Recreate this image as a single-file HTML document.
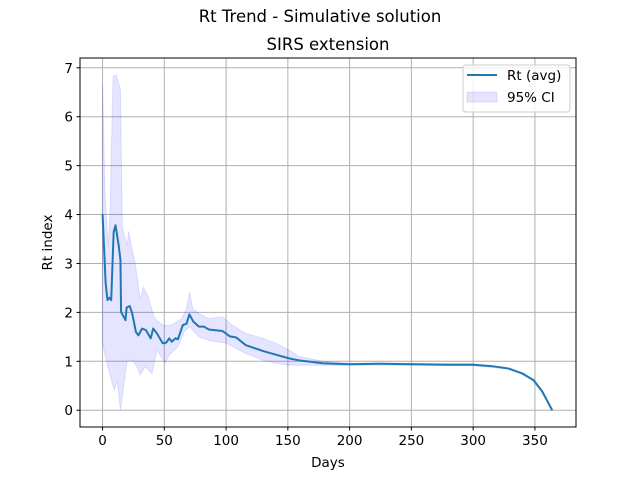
<!DOCTYPE html>
<html><head><meta charset="utf-8"><style>
body{margin:0;background:#fff}
svg{display:block;font-family:"DejaVu Sans","Liberation Sans",sans-serif}
</style></head><body>
<svg id="chart" width="640" height="480" viewBox="0 0 640 480" xmlns="http://www.w3.org/2000/svg">
<rect width="640" height="480" fill="#fff"/>
<text x="320" y="22" text-anchor="middle" font-size="16.5">Rt Trend - Simulative solution</text>
<text x="328" y="50" text-anchor="middle" font-size="16.5">SIRS extension</text>
<g id="grid"></g>
<g id="band"></g>
<g id="line"></g>
<rect x="80" y="58" width="496" height="369" fill="none" stroke="#000" stroke-width="1"/>
<g id="ticks"></g>
<text x="328" y="467" text-anchor="middle" font-size="13.5">Days</text>
<text transform="translate(52,242.5) rotate(-90)" text-anchor="middle" font-size="13.5">Rt index</text>
<g>
<rect x="463" y="65" width="107" height="47" rx="3" fill="#fff" fill-opacity="0.8" stroke="#ccc"/>
<line x1="467" y1="75" x2="497" y2="75" stroke="#1f77b4" stroke-width="2"/>
<text x="507" y="80" font-size="13.5">Rt (avg)</text>
<rect x="467" y="92" width="30" height="10" fill="#0000ff" fill-opacity="0.1" stroke="#0000ff" stroke-opacity="0.1"/>
<text x="507" y="102" font-size="13.5">95% CI</text>
</g>
</svg>
<script>
const days=[0,2.5,4,5.5,7,9,10.5,13,14.5,15,18.6,19.5,22,24,27,29,32,35,39,41,44,48.7,51.5,54,56,59,61,65,68,70.3,73.5,78,82,86,97,103,108,116,130,141,151,159,178,199,223,251,278,300,315.5,329,340,349,356,364];
const avg=[4.01,2.6,2.25,2.3,2.25,3.64,3.78,3.38,3.07,2.01,1.84,2.1,2.13,1.98,1.6,1.53,1.67,1.64,1.47,1.67,1.57,1.37,1.38,1.47,1.40,1.47,1.45,1.74,1.77,1.96,1.81,1.71,1.71,1.65,1.62,1.51,1.49,1.33,1.21,1.13,1.06,1.02,0.96,0.94,0.95,0.94,0.93,0.93,0.90,0.85,0.75,0.61,0.38,0.0];
const upDays=[0,2,4.5,6,8.5,11,14.5,16,20,21,24,26.5,30.5,33,37,41.5,45,49,56,64,68,70.5,73,78,86,97,105,116,130,141,151,159,178,199,250,300,330,350,364];
const upper=[6.65,4.44,3.35,4.0,6.82,6.86,6.55,3.75,3.35,3.66,3.28,3.0,2.25,2.52,2.32,1.91,1.81,1.74,1.74,1.87,2.08,2.42,2.08,1.98,1.87,1.91,1.74,1.57,1.47,1.36,1.23,1.1,1.0,0.96,0.96,0.95,0.86,0.62,0.0];
const loDays=[0,3,6.5,9.5,12,14.5,17,20,24,28,30.5,34.5,40,44,50.5,54,61,66,70.5,78,86,100,116,130,141,151,178,199,250,300,330,350,364];
const lower=[1.37,1.02,0.68,0.41,0.61,0.0,0.48,1.02,1.02,0.89,0.72,0.89,0.75,1.23,0.96,1.13,1.3,1.6,1.71,1.5,1.43,1.37,1.16,1.02,0.96,0.92,0.92,0.92,0.92,0.91,0.84,0.6,0.0];
const xTicks=[0,50,100,150,200,250,300,350];
const yTicks=[0,1,2,3,4,5,6,7];
const NS='http://www.w3.org/2000/svg';
const X0=80,X1=576,Y0=427,Y1=58,xmin=-18.25,xmax=383.25,ymin=-0.343,ymax=7.2;
const sx=d=>X0+(d-xmin)/(xmax-xmin)*(X1-X0);
const sy=v=>Y0-(v-ymin)/(ymax-ymin)*(Y0-Y1);
function mk(tag,attrs,parent){const e=document.createElementNS(NS,tag);for(const k in attrs)e.setAttribute(k,attrs[k]);document.getElementById(parent).appendChild(e);return e;}
xTicks.forEach(t=>{
 const g=mk('line',{x1:sx(t),x2:sx(t),y1:Y1,y2:Y0,stroke:'#b0b0b0','stroke-width':1},'grid');
 
 
 const tk=mk('line',{x1:sx(t),x2:sx(t),y1:Y0,y2:Y0+3.5,stroke:'#000'},'ticks');
 
 
 const tx=mk('text',{x:sx(t),y:Y0+18,'text-anchor':'middle','font-size':13.5},'ticks');
 tx.textContent=t;
 
 
});
yTicks.forEach(t=>{
 const g=mk('line',{x1:X0,x2:X1,y1:sy(t),y2:sy(t),stroke:'#b0b0b0','stroke-width':1},'grid');
 
 
 const tk=mk('line',{x1:X0-3.5,x2:X0,y1:sy(t),y2:sy(t),stroke:'#000'},'ticks');
 
 
 const tx=mk('text',{x:X0-7,y:sy(t)+5,'text-anchor':'end','font-size':13.5},'ticks');
 tx.textContent=t;
 
 
});
let pts=upDays.map((d,i)=>sx(d)+','+sy(upper[i]));
for(let i=loDays.length-1;i>=0;i--)pts.push(sx(loDays[i])+','+sy(lower[i]));
const band=mk('polygon',{points:pts.join(' '),fill:'#0000ff','fill-opacity':0.1,stroke:'#0000ff','stroke-opacity':0.1},'band');


const ln=mk('polyline',{points:days.map((d,i)=>sx(d)+','+sy(avg[i])).join(' '),fill:'none',stroke:'#1f77b4','stroke-width':2,'stroke-linejoin':'round'},'line');


</script>
</body></html>
